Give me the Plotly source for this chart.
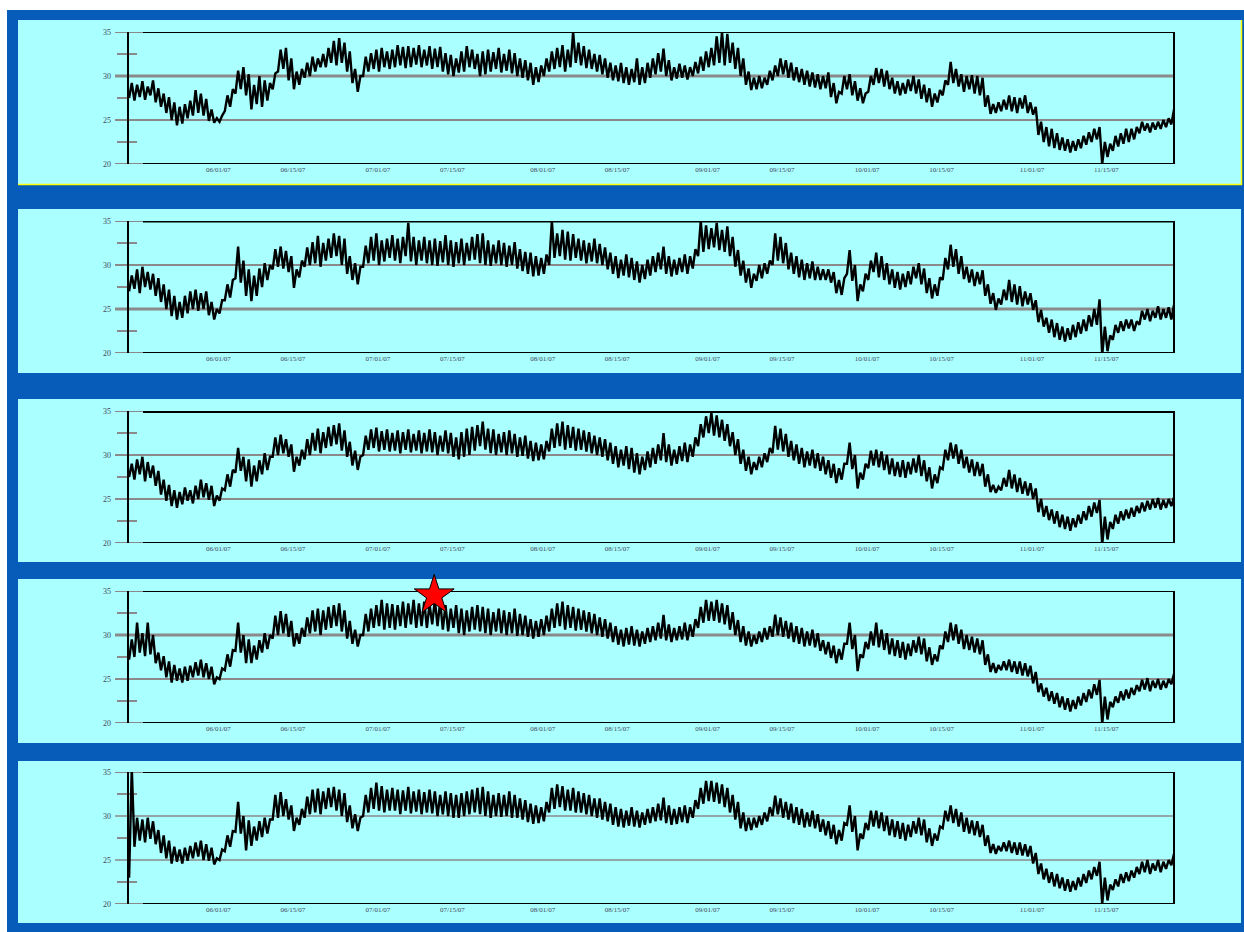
import pandas as pd
import plotly.graph_objects as go

W, H = 1244, 932
start_date = "2007-05-15"
end_date = "2007-11-27 17:00"

x_tick_dates = ["2007-06-01", "2007-06-15", "2007-07-01", "2007-07-15", "2007-08-01", "2007-08-15",
                "2007-09-01", "2007-09-15", "2007-10-01", "2007-10-15", "2007-11-01", "2007-11-15"]
x_tick_labels = ["06/01/07", "06/15/07", "07/01/07", "07/15/07", "08/01/07", "08/15/07",
                 "09/01/07", "09/15/07", "10/01/07", "10/15/07", "11/01/07", "11/15/07"]
y_tick_vals = [20, 25, 30, 35]
y_tick_labels = ["20", "25", "30", "35"]

# daily low / high readings, one pair per day starting 2007-05-15
p1_lo = [27.5,27.2,27.6,27.3,27.8,27.0,26.5,25.8,25.0,24.4,
         24.6,25.2,25.5,25.8,25.5,24.9,24.7,24.8,26.0,26.5,
         28.0,28.5,27.8,26.2,26.8,26.5,27.2,28.5,30.5,30.8,
         29.5,28.5,29.0,29.8,30.0,30.5,31.0,31.0,31.5,31.2,
         31.5,30.5,29.2,28.2,30.0,30.5,30.8,30.5,31.0,30.8,
         31.0,31.2,30.9,31.0,31.3,31.0,31.2,30.8,31.0,30.5,
         30.2,30.0,30.4,30.5,31.0,30.8,30.0,30.2,30.5,30.8,
         30.4,30.6,30.3,30.0,29.8,29.5,29.0,29.3,30.0,30.5,
         30.8,31.0,30.5,31.0,31.5,31.2,30.9,30.8,30.5,30.2,
         29.8,29.5,29.4,29.2,29.0,29.3,29.0,29.2,29.8,30.2,
         30.5,30.0,29.5,29.7,29.8,29.6,30.0,30.3,30.6,31.0,
         31.2,31.5,31.2,31.5,30.8,30.0,29.0,28.4,28.5,28.6,
         29.0,29.5,30.0,30.2,29.8,29.5,29.3,29.0,28.8,28.7,
         28.5,28.6,27.6,26.9,28.0,28.5,27.8,27.2,26.9,28.2,
         29.0,29.2,28.8,28.5,28.0,27.8,28.0,28.3,28.0,27.4,
         27.0,26.5,27.0,27.8,29.0,29.2,28.8,28.2,28.5,28.0,
         27.8,26.5,25.7,25.8,26.0,26.2,26.0,25.8,26.3,25.8,
         25.6,23.3,22.5,22.0,21.8,21.6,21.5,21.3,21.5,21.8,
         22.2,22.5,22.8,20.0,20.8,21.5,22.0,22.3,22.5,22.8,
         23.5,23.8,23.6,23.9,24.0,24.2,24.5]
p1_hi = [29.2,29.0,29.4,28.8,29.5,28.6,28.0,27.6,27.0,26.5,
         26.8,27.2,28.4,28.0,27.4,26.2,25.2,25.5,27.8,28.5,
         30.6,31.0,30.2,29.0,30.0,29.5,29.2,30.3,33.0,33.2,
         32.0,30.5,30.8,31.5,32.2,32.0,32.5,33.2,34.0,34.3,
         33.8,32.8,30.8,30.0,32.2,32.6,33.0,33.2,32.8,33.0,
         33.5,33.3,33.4,33.2,33.5,33.0,33.4,33.1,33.3,32.6,
         32.4,32.0,32.8,33.4,33.0,32.5,32.8,33.0,32.7,33.2,
         32.5,33.0,32.6,32.0,31.8,31.5,31.0,31.2,32.0,32.8,
         33.2,33.5,33.0,35.0,33.8,33.4,33.0,32.5,32.4,32.0,
         31.5,31.2,31.5,31.0,30.8,32.0,31.0,31.5,32.0,32.6,
         33.1,31.8,31.0,31.4,31.2,31.0,31.6,32.2,32.8,33.2,
         34.5,35.0,34.8,33.8,33.2,32.0,30.5,29.8,30.0,29.8,
         30.6,31.2,32.0,31.8,31.5,31.0,30.8,30.6,30.4,30.2,
         30.0,30.4,29.2,28.2,30.0,30.2,29.4,28.6,28.0,30.0,
         30.9,30.8,30.6,29.8,29.4,29.2,29.6,30.0,29.6,29.0,
         28.6,28.0,28.4,29.5,31.6,30.8,30.2,30.0,30.1,30.0,
         29.8,27.8,26.8,27.0,27.3,27.8,27.6,27.5,27.8,27.0,
         26.5,24.8,24.2,24.0,23.5,23.0,22.8,22.6,22.8,23.2,
         23.6,24.0,24.2,22.5,22.3,23.2,23.5,24.0,24.0,24.2,
         24.8,24.6,24.7,24.8,25.0,25.2,26.2]

p2_lo = [27.0,27.3,26.8,27.5,27.2,26.5,25.8,25.0,24.2,23.8,
         24.0,24.5,25.0,24.8,25.0,24.3,23.8,24.5,26.0,26.3,
         28.5,28.0,26.5,25.9,26.5,27.5,28.3,29.5,29.8,29.6,
         29.2,27.4,28.6,29.8,30.0,30.2,29.8,30.5,30.8,31.0,
         30.0,29.0,28.3,27.8,29.8,30.2,30.5,30.0,30.4,30.8,
         30.5,30.2,31.0,30.4,30.0,30.5,30.2,30.0,29.9,30.3,
         30.0,29.8,30.2,30.0,30.5,30.6,30.2,30.0,29.9,30.2,
         30.0,29.8,30.0,29.6,29.3,29.0,28.7,28.8,29.0,30.0,
         30.8,31.0,30.6,30.5,30.8,30.5,30.2,30.4,30.2,30.0,
         29.5,29.0,28.5,28.8,28.6,28.3,28.0,28.4,28.8,29.2,
         29.5,29.0,28.7,28.9,29.2,29.0,29.6,31.0,31.5,31.8,
         32.0,31.7,31.5,31.0,29.8,28.8,28.0,27.4,28.2,28.5,
         29.0,30.0,30.5,30.2,29.5,29.0,28.6,28.3,28.5,28.3,
         28.3,28.3,28.0,26.8,26.6,29.0,28.2,25.9,27.0,28.3,
         29.2,28.6,28.3,27.8,27.4,27.2,27.5,27.8,28.5,27.8,
         26.8,26.2,26.5,28.3,29.5,29.8,29.0,28.4,28.0,27.6,
         27.8,26.5,25.6,24.9,25.5,26.0,25.8,25.5,25.3,25.5,
         24.9,23.5,23.0,22.3,21.8,21.5,21.3,21.5,21.8,22.2,
         22.5,23.0,23.2,19.8,20.2,21.5,22.3,22.5,22.8,22.5,
         23.2,23.8,23.6,24.0,23.8,24.0,23.8]
p2_hi = [28.8,29.5,29.8,29.2,29.0,28.5,27.8,27.2,26.5,25.8,
         26.5,27.0,27.2,26.8,27.0,25.8,25.0,26.0,27.8,28.3,
         32.1,30.5,29.5,28.8,29.6,30.2,30.0,31.8,32.1,31.6,
         31.0,29.5,30.5,32.0,32.6,33.3,32.5,33.0,33.6,33.3,
         33.0,31.0,30.2,29.8,32.2,33.2,33.6,32.8,33.0,33.4,
         33.0,33.2,34.8,33.2,32.8,33.2,32.8,33.0,32.7,33.4,
         32.8,32.6,33.0,32.5,33.2,33.5,33.6,32.8,32.3,32.8,
         32.5,32.2,32.6,31.8,31.5,31.4,31.0,30.8,31.2,35.0,
         33.6,34.0,33.8,33.5,33.0,32.8,32.5,33.0,32.4,32.0,
         31.4,31.0,30.6,31.2,30.8,30.4,30.0,30.6,31.0,31.4,
         32.1,31.0,30.6,30.8,31.2,31.0,31.8,35.0,34.5,34.2,
         34.8,34.0,34.4,33.2,31.7,30.5,29.6,29.0,30.0,30.2,
         30.5,33.6,33.2,32.5,31.4,31.0,30.6,30.2,30.4,29.8,
         29.5,29.5,29.2,28.3,28.5,31.7,30.0,27.8,29.0,30.5,
         31.4,31.0,30.2,29.5,29.2,29.0,29.3,29.8,30.2,29.6,
         28.5,27.8,28.6,30.8,32.3,31.8,31.0,29.8,29.5,29.2,
         29.4,27.8,26.8,26.2,27.2,28.3,27.8,27.6,27.0,26.8,
         26.0,24.9,24.0,23.8,23.4,23.0,22.8,23.2,23.5,23.8,
         24.3,25.0,26.1,23.0,22.0,23.2,23.6,23.8,23.8,23.6,
         24.8,25.0,24.8,25.3,25.0,25.2,25.5]

p3_lo = [27.5,27.2,27.8,27.0,27.4,26.5,25.5,24.8,24.2,24.0,
         24.4,24.8,24.5,25.0,25.2,24.9,24.2,24.8,26.0,26.4,
         28.0,28.2,27.0,26.4,27.0,27.8,28.3,29.8,30.0,30.2,
         29.8,28.1,28.8,29.5,30.0,30.5,30.2,30.8,31.0,31.2,
         30.5,29.8,28.8,28.3,30.0,30.6,30.8,30.4,30.6,30.4,
         30.5,30.2,30.6,30.3,30.5,30.2,30.4,30.3,30.0,30.4,
         30.2,29.8,29.5,29.8,30.0,30.5,31.0,30.6,30.2,30.0,
         30.3,30.0,30.2,29.8,29.9,29.6,29.3,29.4,29.5,30.4,
         30.8,31.0,30.6,30.8,30.5,30.6,30.4,30.2,30.0,29.8,
         29.4,29.0,28.6,28.8,28.4,28.0,27.8,28.3,28.6,29.0,
         29.4,29.2,28.8,29.0,29.3,29.2,29.8,31.0,32.0,32.5,
         32.2,32.0,31.6,31.0,30.0,29.0,28.2,27.8,28.3,28.6,
         29.2,30.2,30.6,30.4,29.8,29.4,29.0,28.6,28.8,28.5,
         28.2,27.8,27.4,26.8,27.2,29.0,28.4,26.2,27.2,28.5,
         28.8,28.6,28.3,27.8,27.6,27.5,27.4,27.8,28.0,27.6,
         27.0,26.2,26.8,28.4,29.4,29.6,29.0,28.5,28.0,27.6,
         27.6,26.4,25.8,25.7,26.0,26.4,26.2,25.8,25.6,25.4,
         25.0,23.5,23.0,22.6,22.2,21.8,21.6,21.4,21.8,22.2,
         22.6,23.0,23.4,19.8,20.4,21.6,22.2,22.6,22.8,23.0,
         23.4,23.6,23.8,24.0,23.8,24.0,24.2]
p3_hi = [29.0,29.5,29.8,29.2,28.8,28.2,27.2,26.6,26.0,25.8,
         26.3,26.0,26.5,27.2,26.8,26.5,25.4,26.2,27.8,28.3,
         30.8,29.8,29.5,28.8,29.4,30.2,29.8,32.0,32.3,31.8,
         31.2,29.8,30.6,31.8,32.5,33.0,32.6,33.2,33.4,33.6,
         32.8,31.5,30.5,29.8,32.2,32.9,33.1,32.7,32.9,32.5,
         32.8,32.6,32.9,32.4,32.8,32.5,32.9,32.6,32.2,32.8,
         32.5,32.0,32.6,33.0,33.2,33.4,33.8,33.0,32.9,32.4,
         32.6,32.8,32.4,32.0,32.2,31.6,31.4,31.2,31.6,33.0,
         33.6,33.8,33.4,33.2,33.0,32.8,32.6,32.2,32.0,31.8,
         31.4,31.0,30.6,31.0,30.8,30.2,29.8,30.4,30.8,31.2,
         32.5,31.2,30.6,31.0,31.4,31.2,32.0,33.5,34.4,34.8,
         34.5,34.0,33.5,32.6,31.8,30.6,29.8,29.2,29.8,30.2,
         30.8,33.3,33.0,32.4,31.6,31.2,30.8,30.4,30.6,30.2,
         29.8,29.4,29.0,28.5,29.0,31.4,30.0,28.0,29.0,30.5,
         30.6,30.4,30.0,29.6,29.2,29.4,29.2,29.6,30.0,29.4,
         28.6,27.8,28.6,30.6,31.4,31.2,30.6,29.8,29.5,29.2,
         29.0,27.8,26.6,26.4,27.4,28.3,27.8,27.4,27.0,26.8,
         26.2,25.0,24.2,23.8,23.6,23.2,23.0,22.8,23.2,23.6,
         24.2,24.6,24.9,23.0,22.4,23.2,23.6,23.8,24.0,24.2,
         24.6,24.8,25.0,25.1,24.9,25.0,25.2]

p4_lo = [27.2,27.5,28.0,27.6,27.8,26.8,26.0,25.2,24.6,24.8,
         24.6,24.8,25.2,25.4,25.2,25.0,24.4,25.0,26.0,26.4,
         28.2,28.0,26.8,26.8,27.2,28.0,28.4,29.6,30.0,30.2,
         29.8,28.7,29.0,29.8,30.2,30.4,30.0,30.6,30.8,31.0,
         30.4,29.6,29.0,28.7,30.0,30.4,30.8,31.0,30.6,30.8,
         30.6,31.0,30.8,31.2,30.8,31.0,30.8,31.2,31.0,30.6,
         30.4,30.8,30.2,30.0,30.4,30.6,30.4,30.2,30.0,30.4,
         30.2,30.0,30.2,29.9,30.0,29.8,29.6,29.8,30.0,30.4,
         30.8,31.0,30.6,30.8,30.5,30.6,30.4,30.2,30.0,29.8,
         29.6,29.2,28.9,28.7,28.9,28.8,28.7,29.0,29.2,29.4,
         29.6,29.4,29.2,29.4,29.5,29.4,29.8,30.8,31.4,31.6,
         31.6,31.4,31.2,30.6,30.0,29.2,28.8,28.7,29.0,29.2,
         29.5,29.8,30.0,29.8,29.6,29.2,29.0,28.7,28.8,28.6,
         28.2,27.8,27.4,26.8,27.2,29.0,28.4,25.9,27.4,28.4,
         28.8,28.6,28.3,27.8,27.6,27.4,27.2,27.6,28.0,27.8,
         27.0,26.6,27.0,28.4,29.2,29.4,29.0,28.4,28.3,28.0,
         27.8,26.6,25.8,25.7,26.0,26.0,25.8,25.6,25.4,25.3,
         24.5,23.5,23.0,22.5,22.2,21.8,21.5,21.3,21.6,22.0,
         22.4,22.8,23.2,19.9,20.4,21.8,22.3,22.6,22.8,23.2,
         23.6,23.8,23.6,24.0,23.8,24.0,24.4]
p4_hi = [29.5,31.4,30.2,31.4,30.0,28.0,27.6,27.0,26.6,26.2,
         26.4,26.5,26.9,27.2,26.8,26.4,25.2,26.2,27.8,28.3,
         31.4,30.0,29.5,28.8,29.4,30.2,30.0,32.2,32.7,32.4,
         31.6,30.2,30.8,32.0,32.8,33.0,32.8,33.2,33.4,33.6,
         32.8,31.6,30.6,30.0,32.4,33.0,33.4,34.0,33.6,33.5,
         33.4,33.8,33.6,34.0,33.6,33.8,33.5,34.0,33.8,33.4,
         33.0,33.4,33.0,32.8,33.2,33.4,33.2,33.0,32.6,33.0,
         32.8,32.6,33.0,32.4,32.2,31.8,31.6,31.8,32.2,33.0,
         33.6,33.8,33.4,33.2,33.0,32.8,32.6,32.4,32.0,31.8,
         31.4,31.0,30.6,30.8,31.0,30.6,30.4,30.8,31.0,31.4,
         32.3,31.2,30.8,31.0,31.4,31.2,31.8,33.2,34.0,33.8,
         34.0,33.6,33.4,32.6,31.7,31.0,30.4,30.0,30.4,30.8,
         31.0,32.3,32.0,31.6,31.4,31.0,30.8,30.4,30.6,30.2,
         29.4,29.2,28.8,28.4,29.0,31.4,30.0,27.8,29.2,30.4,
         31.4,30.6,30.2,29.6,29.4,29.2,29.0,29.4,29.8,29.6,
         28.6,27.8,28.8,30.4,31.4,31.2,30.6,30.0,29.8,29.6,
         29.4,27.8,26.8,26.6,27.0,27.2,27.0,27.0,26.8,26.5,
         25.8,24.5,24.0,23.6,23.4,23.0,22.8,22.6,23.0,23.4,
         23.8,24.4,24.9,23.0,22.4,23.0,23.6,23.8,24.0,24.3,
         24.9,25.1,24.8,25.0,24.8,25.0,25.6]

p5_lo = [23.0,26.5,27.2,27.0,27.4,26.8,25.8,25.2,24.6,24.8,
         24.6,24.9,25.2,25.4,25.0,24.9,24.5,25.0,26.0,26.5,
         28.2,28.0,26.1,26.6,27.2,27.6,28.0,29.6,29.8,30.0,
         29.6,28.3,29.0,29.8,30.2,30.4,30.2,30.8,31.0,30.6,
         30.0,29.3,28.6,28.3,30.0,30.4,30.8,30.6,30.4,30.6,
         30.6,30.2,30.6,30.3,30.5,30.2,30.4,30.3,30.0,30.2,
         30.0,29.8,29.8,30.0,30.2,30.4,30.2,30.0,29.8,30.0,
         29.9,30.0,29.8,29.8,29.6,29.3,29.1,29.2,29.4,30.4,
         30.8,31.0,30.6,30.6,30.4,30.4,30.2,30.0,29.8,29.6,
         29.4,29.0,28.8,28.7,28.9,28.8,28.7,29.0,29.2,29.4,
         29.5,29.2,29.0,29.1,29.3,29.2,29.8,30.8,31.4,31.7,
         31.6,31.4,31.0,30.4,29.6,28.6,28.3,28.4,28.7,29.0,
         29.4,30.0,30.2,29.8,29.6,29.2,29.0,28.7,28.8,28.6,
         28.2,27.8,27.4,26.8,27.2,29.0,28.2,26.1,27.4,28.4,
         28.8,28.6,28.3,27.8,27.6,27.4,27.2,27.6,28.0,27.8,
         27.0,26.6,27.2,28.6,29.4,29.2,28.8,28.2,28.0,27.8,
         27.6,26.6,25.8,25.7,26.0,26.0,25.8,25.6,25.5,25.4,
         24.6,23.4,22.8,22.4,22.0,21.8,21.5,21.4,21.6,22.0,
         22.4,22.8,23.2,20.0,20.4,21.6,22.0,22.4,22.6,23.0,
         23.4,23.6,23.4,23.8,23.6,24.0,24.4]
p5_hi = [35.5,29.8,29.6,29.8,29.4,28.4,27.8,27.2,26.5,26.2,
         26.4,26.6,27.0,27.2,26.8,26.4,25.2,26.2,27.8,28.3,
         31.6,30.0,29.5,28.8,29.4,29.8,29.6,32.4,32.7,31.9,
         31.2,29.8,30.8,32.2,33.0,33.1,32.8,33.2,33.3,33.0,
         32.6,31.2,30.2,29.8,32.4,33.2,33.8,33.4,33.0,33.2,
         33.0,32.9,33.3,32.8,33.0,32.7,33.0,32.8,32.4,32.8,
         32.6,32.4,32.6,32.8,33.0,33.2,33.3,32.8,32.4,32.6,
         32.4,32.8,32.4,32.0,31.8,31.4,31.2,31.0,31.6,33.2,
         33.6,33.4,33.0,33.2,32.8,32.6,32.4,32.0,32.0,31.6,
         31.4,31.0,30.8,30.6,31.0,30.6,30.4,30.8,31.0,31.4,
         32.1,31.2,30.8,31.0,31.2,31.0,31.8,33.2,34.0,34.0,
         33.8,33.6,33.2,32.4,31.6,30.4,29.8,29.8,30.0,30.4,
         31.0,32.3,32.0,31.6,31.4,31.0,30.8,30.4,30.6,30.2,
         29.6,29.4,29.0,28.4,29.2,31.2,30.0,28.0,29.2,30.6,
         30.6,30.4,30.0,29.6,29.4,29.2,29.0,29.4,29.8,29.6,
         28.6,28.0,28.8,30.6,31.2,30.8,30.4,29.8,29.5,29.4,
         29.0,27.8,26.8,26.6,27.0,27.2,27.0,27.0,26.8,26.6,
         25.8,24.6,24.0,23.6,23.4,23.0,22.8,22.6,23.0,23.4,
         23.8,24.2,24.8,23.0,22.2,22.8,23.4,23.6,23.8,24.2,
         24.8,25.0,24.6,25.0,24.8,25.0,25.7]

star_date = "2007-07-11 14:00"
star_value = 34.5

series = [(p1_lo, p1_hi), (p2_lo, p2_hi), (p3_lo, p3_hi), (p4_lo, p4_hi), (p5_lo, p5_hi)]

# ---- layout geometry (pixels) ----
plot_left, plot_right = 128, 1174
plot_rows = [(32, 164), (221, 353), (411, 543), (591, 723), (772, 904)]
panel_rows = [(20, 184), (209, 373), (399, 562), (579, 743), (761, 923)]
panel_left, panel_right = 18, 1241
grid30_w = [3, 2, 2, 3, 1.5]
grid25_w = [2, 3, 2, 2, 1.5]
top_w = [2, 3, 4, 2, 2]

BLUE = "#065cb8"
CYAN = "#aaffff"
GRAY = "#8a8a8a"
TXT = "#46465a"


def px(x):
    return x / W


def py(y):
    return 1 - y / H


days = pd.date_range(start_date, periods=len(p1_lo), freq="D")
xs = []
for d in days:
    xs.append(d + pd.Timedelta(hours=5))
    xs.append(d + pd.Timedelta(hours=17))

fig = go.Figure()
shapes = [dict(type="rect", xref="paper", yref="paper", x0=px(7), x1=px(W), y0=py(H), y1=py(10),
               fillcolor=BLUE, line_width=0, layer="below")]
for top, bot in panel_rows:
    shapes.append(dict(type="rect", xref="paper", yref="paper", x0=px(panel_left), x1=px(panel_right),
                       y0=py(bot), y1=py(top), fillcolor=CYAN, line_width=0, layer="below"))
# yellow highlight on first panel
shapes.append(dict(type="line", xref="paper", yref="paper", x0=px(panel_left), x1=px(panel_right + 1),
                   y0=py(184.5), y1=py(184.5), line=dict(color="#ffff00", width=1.5), layer="below"))
shapes.append(dict(type="line", xref="paper", yref="paper", x0=px(panel_right + 0.5), x1=px(panel_right + 0.5),
                   y0=py(185), y1=py(20), line=dict(color="#ffff00", width=1.5), layer="below"))

for i, ((lo, hi), (top, bot)) in enumerate(zip(series, plot_rows)):
    k = i + 1
    suf = "" if k == 1 else str(k)
    xa, ya = "x" + suf, "y" + suf
    ys = []
    for a, b in zip(lo, hi):
        ys.extend([a, b])
    fig.add_trace(go.Scatter(x=xs, y=ys, mode="lines",
                             line=dict(color="black", width=2.4, simplify=False),
                             xaxis=xa, yaxis=ya, showlegend=False, hoverinfo="skip"))
    fig.update_layout(**{
        "xaxis" + suf: dict(domain=[px(plot_left), px(plot_right)], anchor=ya, type="date",
                            range=[start_date, end_date], tickvals=x_tick_dates, ticktext=x_tick_labels,
                            showgrid=False, zeroline=False, showline=False, ticks="", automargin=False,
                            tickfont=dict(size=7, color=TXT, family="Liberation Serif"), tickangle=0),
        "yaxis" + suf: dict(domain=[py(bot), py(top)], anchor=xa, range=[20, 35],
                            tickvals=y_tick_vals, ticktext=y_tick_labels, showgrid=False, zeroline=False,
                            showline=False, ticks="", ticklabelstandoff=16, automargin=False,
                            tickfont=dict(size=8, color=TXT, family="Liberation Serif")),
    })
    # gridlines at 30 and 25
    for v, w in ((30, grid30_w[i]), (25, grid25_w[i])):
        shapes.append(dict(type="line", xref="paper", yref=ya, x0=px(115), x1=px(plot_right), y0=v, y1=v,
                           line=dict(color=GRAY, width=w), layer="below"))
    # minor ticks
    for v, x0, x1 in ((32.5, 117, 137), (27.5, 117, 128), (22.5, 117, 137)):
        shapes.append(dict(type="line", xref="paper", yref=ya, x0=px(x0), x1=px(x1), y0=v, y1=v,
                           line=dict(color=GRAY, width=2), layer="below"))
    # top & bottom frame lines
    for v, w in ((35, top_w[i]), (20, 2)):
        shapes.append(dict(type="line", xref="paper", yref=ya, x0=px(115), x1=px(143), y0=v, y1=v,
                           line=dict(color=GRAY, width=2), layer="below"))
        shapes.append(dict(type="line", xref="paper", yref=ya, x0=px(143), x1=px(plot_right), y0=v, y1=v,
                           line=dict(color="black", width=w), layer="below"))
    # left axis & right border
    for xv in (plot_left, plot_right):
        shapes.append(dict(type="line", xref="paper", yref=ya, x0=px(xv), x1=px(xv), y0=20, y1=35,
                           line=dict(color="black", width=2), layer="below"))

fig.add_trace(go.Scatter(x=[star_date], y=[star_value], mode="markers", xaxis="x4", yaxis="y4",
                         marker=dict(symbol="star", size=30, color="#ff0000", line=dict(color="black", width=1)),
                         cliponaxis=False, showlegend=False, hoverinfo="skip"))

fig.update_layout(width=W, height=H, autosize=False,
                  margin=dict(l=0, r=0, t=0, b=0, pad=0, autoexpand=False),
                  paper_bgcolor="white", plot_bgcolor="rgba(0,0,0,0)", shapes=shapes, showlegend=False)

fig.write_html("out.html")
